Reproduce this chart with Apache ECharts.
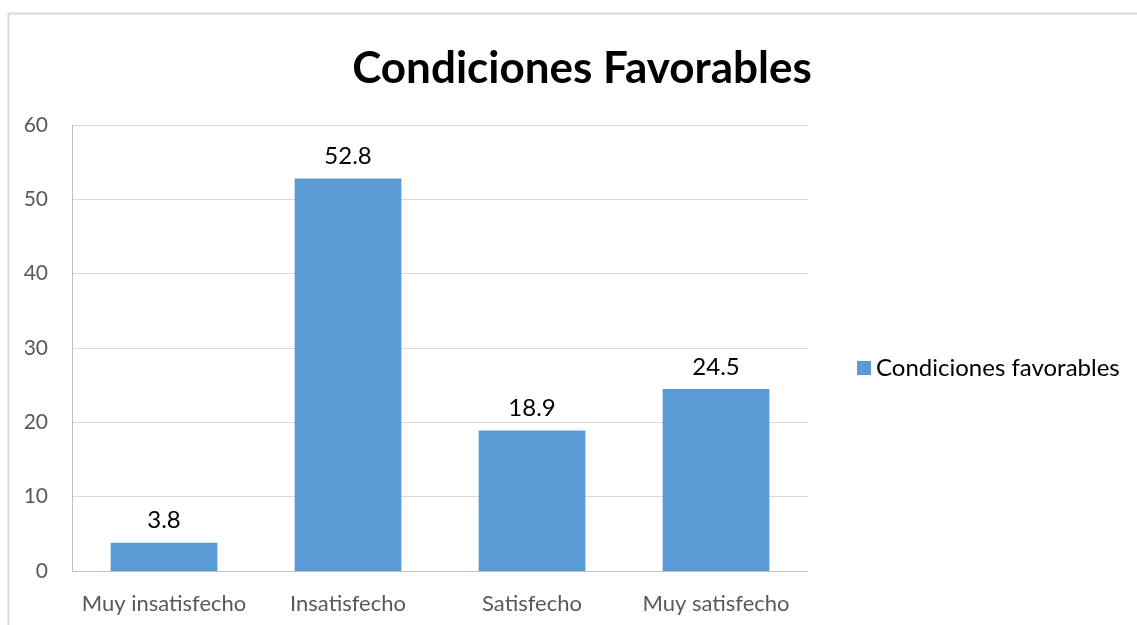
<!DOCTYPE html>
<html>
<head>
<meta charset="utf-8">
<script src="https://cdn.jsdelivr.net/npm/echarts@6/dist/echarts.min.js"></script>
<style>
html, body { margin: 0; padding: 0; background: #fff; }
#chart { width: 1137px; height: 625px; }
</style>
</head>
<body>
<div id="chart"></div>
<script>
// Chart data
const categories = ['Muy insatisfecho', 'Insatisfecho', 'Satisfecho', 'Muy satisfecho'];
const values = [3.8, 52.8, 18.9, 24.5];
const seriesName = 'Condiciones favorables';
const titleText = 'Condiciones Favorables';

const FONT = 'Lato, "Open Sans", sans-serif';

const chart = echarts.init(document.getElementById('chart'));

const option = {
    animation: false,
    backgroundColor: '#fff',
    graphic: [{
        // outer chart frame
        type: 'rect',
        shape: { x: 8.5, y: 13.5, width: 1200, height: 700 },
        style: { fill: 'none', stroke: '#d9d9d9', lineWidth: 2 }
    }],
    title: {
        text: titleText,
        left: 577,
        top: 42,
        textAlign: 'center',
        textStyle: {
            fontFamily: FONT,
            fontSize: 44,
            fontWeight: 'bold',
            color: '#000'
        }
    },
    legend: {
        data: [seriesName],
        left: 852,
        top: 351,
        itemWidth: 14,
        itemHeight: 14,
        itemGap: 8,
        icon: 'rect',
        textStyle: {
            fontFamily: FONT,
            fontSize: 24,
            color: '#000'
        }
    },
    grid: {
        left: 72,
        right: 1137 - 808,
        top: 125,
        bottom: 625 - 571,
        containLabel: false
    },
    xAxis: {
        type: 'category',
        data: categories,
        axisTick: { show: false },
        axisLine: { lineStyle: { color: '#bfbfbf', width: 1 } },
        axisLabel: {
            interval: 0,
            fontFamily: FONT,
            fontSize: 22,
            color: '#595959',
            margin: 22
        }
    },
    yAxis: {
        type: 'value',
        min: 0,
        max: 60,
        interval: 10,
        axisLine: { show: true, lineStyle: { color: '#bfbfbf', width: 1 } },
        axisTick: { show: false },
        splitLine: { lineStyle: { color: '#d9d9d9', width: 1 } },
        axisLabel: {
            fontFamily: FONT,
            fontSize: 21,
            color: '#595959',
            margin: 24
        }
    },
    series: [{
        name: seriesName,
        type: 'bar',
        data: values,
        barWidth: '58%',
        itemStyle: { color: '#5b9bd5' },
        label: {
            show: true,
            position: 'top',
            distance: 10,
            fontFamily: FONT,
            fontSize: 24,
            color: '#000',
            formatter: '{c}'
        }
    }]
};

chart.setOption(option);
</script>
</body>
</html>
